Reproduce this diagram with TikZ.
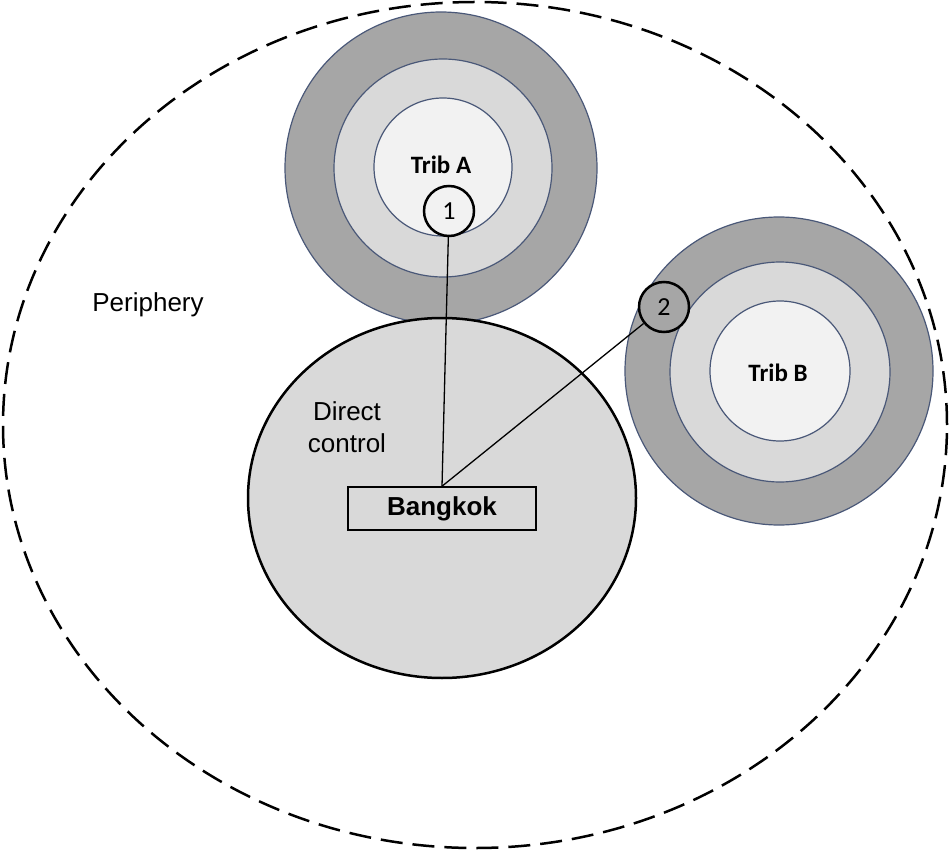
\documentclass[tikz,border=0pt]{standalone}
\usepackage{fontspec}
\setmainfont{Liberation Sans}
\newfontfamily\calibri{Carlito}
\usetikzlibrary{shapes.geometric}

\definecolor{ringdark}{HTML}{A6A6A6}
\definecolor{ringmid}{HTML}{D9D9D9}
\definecolor{ringin}{HTML}{F2F2F2}
\definecolor{ringline}{HTML}{4A5878}

\begin{document}
\begin{tikzpicture}[x=1pt,y=-1pt,
    ring/.style={circle, draw=ringline, line width=1.2pt, inner sep=0pt},
    stop/.style={circle, draw, line width=2.5pt, minimum size=50pt, inner sep=0pt,
      font=\calibri\fontsize{26}{30}\selectfont},
    trib/.style={font=\calibri\bfseries\fontsize{25}{30}\selectfont, anchor=base},
    label/.style={font=\fontsize{26}{32}\selectfont, align=center}]

        \useasboundingbox (0,0) rectangle (950,850);

        % outer and inner areas
        \node[ellipse, draw, line width=2.5pt, dash pattern=on 22pt off 10pt,
          minimum width=944pt, minimum height=846pt, inner sep=0pt] (periph) at (475,425) {};

        \begin{scope}[every node/.style={ring}]
          \node[fill=ringdark, minimum size=312pt] (ta3) at (441,168) {};
          \node[fill=ringmid,  minimum size=218pt] (ta2) at (443,168) {};
          \node[fill=ringin,   minimum size=138pt] (ta1) at (443,167) {};
          \node[fill=ringdark, minimum size=308pt] (tb3) at (779,371) {};
          \node[fill=ringmid,  minimum size=220pt] (tb2) at (780,372) {};
          \node[fill=ringin,   minimum size=140pt] (tb1) at (780,371) {};
        \end{scope}

        \node[ellipse, draw, fill=ringmid, line width=2.5pt, inner sep=0pt,
          minimum width=388pt, minimum height=360pt] (direct) at (442,498) {};

        % texts
        \node[trib] (tA) at (441,174) {Trib A};
        \node[trib] (tB) at (778,381) {Trib B};
        \node[label, anchor=base] (pl) at (148,312) {Periphery};
        \node[label] (dl) at (347,427) {Direct\\control};
        \node[draw, fill=ringmid, line width=1.5pt, minimum width=188pt, minimum height=43pt,
          inner sep=0pt, font=\bfseries\fontsize{26}{30}\selectfont] (bk) at (442,508.5) {Bangkok};

        % tributary links
        \node[stop, fill=ringin]   (1) at (449,211) {1};
        \node[stop, fill=ringdark] (2) at (664,307) {2};

        \path[draw, line width=1.3pt] (1) -- (bk.north);
        \path[draw, line width=1.3pt] (2) -- (bk.north);

      \end{tikzpicture}
\end{document}
